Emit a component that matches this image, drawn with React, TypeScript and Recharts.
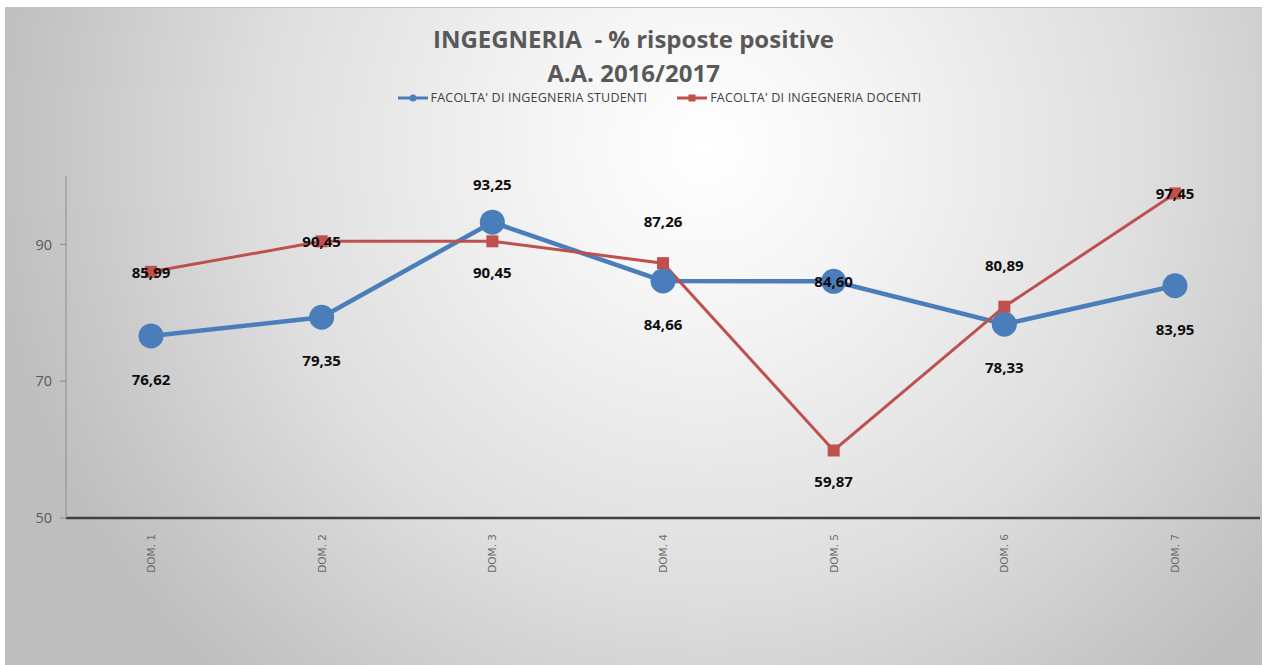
import { LineChart, Line, XAxis, YAxis, LabelList } from 'recharts';

const categories = ['DOM. 1', 'DOM. 2', 'DOM. 3', 'DOM. 4', 'DOM. 5', 'DOM. 6', 'DOM. 7'];
const studenti = [76.62, 79.35, 93.25, 84.66, 84.6, 78.33, 83.95];
const docenti = [85.99, 90.45, 90.45, 87.26, 59.87, 80.89, 97.45];
const yTicks = [50, 70, 90];

// where each data label sits relative to its point
const studentiLabelPos = ['below', 'below', 'above', 'below', 'center', 'below', 'below'];
const docentiLabelPos = ['center', 'center', 'below', 'above', 'below', 'above', 'center'];

const data = categories.map((name, i) => ({
  name,
  studenti: studenti[i],
  docenti: docenti[i],
}));

const BLUE = '#4a7ebb';
const RED = '#c0504d';
const FONT = '"Open Sans", "Noto Sans", sans-serif';

const fmt = (v: number) => v.toFixed(2).replace('.', ',');

const makeLabel = (positions: string[], below: number, above: number) => (props: any) => {
  const { x, y, value, index } = props;
  const pos = positions[index];
  const dy = pos === 'below' ? below : pos === 'above' ? -above : 0;
  return (
    <text
      x={x}
      y={y + dy}
      textAnchor="middle"
      dominantBaseline="central"
      fontFamily={FONT}
      fontWeight={700}
      fontSize={15}
      fill="#0d0d0d"
    >
      {fmt(value)}
    </text>
  );
};

const SquareDot = (props: any) => {
  const { cx, cy, index } = props;
  return <rect key={'sq' + index} x={cx - 6} y={cy - 6} width={12} height={12} fill={RED} />;
};

const XTick = (props: any) => {
  const { x, y, payload } = props;
  return (
    <text
      x={x}
      y={y}
      transform={`rotate(-90, ${x}, ${y})`}
      textAnchor="end"
      dominantBaseline="central"
      fontFamily='"DejaVu Sans", sans-serif'
      fontSize={10.5}
      fill="#6b6b6b"
    >
      {payload.value}
    </text>
  );
};

const ChartLegend = () => (
  <div
    style={{
      position: 'absolute',
      top: 81,
      left: 0,
      width: 1257,
      display: 'flex',
      justifyContent: 'center',
      paddingLeft: 52,
      boxSizing: 'border-box',
      fontFamily: FONT,
      fontSize: 12.5,
      letterSpacing: 0.2,
      color: '#404040',
      gap: 30,
    }}
  >
    <div style={{ display: 'flex', alignItems: 'center' }}>
      <svg width={33} height={14}>
        <line x1={0} y1={7} x2={30} y2={7} stroke={BLUE} strokeWidth={3} />
        <circle cx={15} cy={7} r={3.5} fill={BLUE} />
      </svg>
      <span>FACOLTA' DI INGEGNERIA STUDENTI</span>
    </div>
    <div style={{ display: 'flex', alignItems: 'center' }}>
      <svg width={33} height={14}>
        <line x1={0} y1={7} x2={30} y2={7} stroke={RED} strokeWidth={3} />
        <rect x={11.5} y={3.5} width={7} height={7} fill={RED} />
      </svg>
      <span>FACOLTA' DI INGEGNERIA DOCENTI</span>
    </div>
  </div>
);

export default function App() {
  return (
    <div style={{ width: 1265, height: 665, background: '#fff', position: 'relative', overflow: 'hidden' }}>
      <style>{'body{margin:0}'}</style>
      <div
        style={{
          position: 'absolute',
          left: 5,
          top: 7,
          width: 1257,
          height: 658,
          borderTop: '1px solid #c4c4c4',
          boxSizing: 'border-box',
          background:
            'radial-gradient(circle 720px at 700px 140px, #ffffff 0%, #f5f5f5 22%, #dedede 62%, #c8c8c8 88%, #bebebe 100%)',
        }}
      >
        <div
          style={{
            position: 'absolute',
            top: 14,
            left: 0,
            width: 1257,
            textAlign: 'center',
            fontFamily: FONT,
            fontWeight: 700,
            fontSize: 24,
            lineHeight: '34px',
            color: '#595959',
          }}
        >
          <div>INGEGNERIA&nbsp;&nbsp;- % risposte positive</div>
          <div>A.A. 2016/2017</div>
        </div>
        <ChartLegend />
        <LineChart
          width={1257}
          height={658}
          data={data}
          margin={{ top: 168, right: 2, bottom: 88, left: 0 }}
          style={{ position: 'absolute', left: 0, top: 0 }}
        >
          <XAxis
            dataKey="name"
            height={60}
            padding={{ left: 85, right: 85 }}
            axisLine={{ stroke: '#404040', strokeWidth: 2.5 }}
            tickLine={false}
            tick={<XTick />}
            tickMargin={10}
            interval={0}
          />
          <YAxis
            width={61}
            domain={[50, 100]}
            ticks={yTicks}
            axisLine={{ stroke: '#8c8c8c' }}
            tickLine={{ stroke: '#8c8c8c' }}
            tickSize={6}
            tickMargin={8}
            tick={{ fill: '#595959', fontFamily: FONT, fontSize: 14.5 }}
          />
          <Line
            dataKey="studenti"
            stroke={BLUE}
            strokeWidth={4.5}
            dot={{ r: 12.5, fill: BLUE, stroke: 'none' }}
            activeDot={false}
            isAnimationActive={false}
          >
            <LabelList dataKey="studenti" content={makeLabel(studentiLabelPos, 43, 38)} />
          </Line>
          <Line
            dataKey="docenti"
            stroke={RED}
            strokeWidth={3}
            dot={<SquareDot />}
            activeDot={false}
            isAnimationActive={false}
          >
            <LabelList dataKey="docenti" content={makeLabel(docentiLabelPos, 31, 42)} />
          </Line>
        </LineChart>
      </div>
    </div>
  );
}
